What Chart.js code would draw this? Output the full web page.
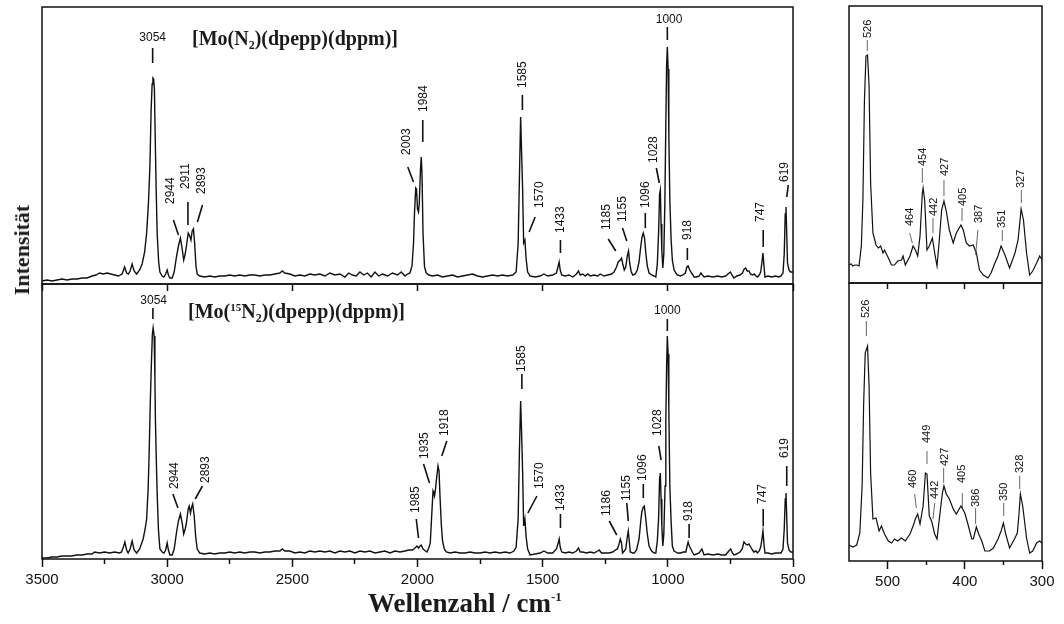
<!DOCTYPE html>
<html lang="de">
<head>
<meta charset="utf-8">
<title>Raman-Spektren Mo(N2)</title>
<script src="https://cdn.jsdelivr.net/npm/chart.js@4.4.1/dist/chart.umd.min.js"></script>
<style>
    body { margin: 0; background: #fff; }
    #wrap { position: relative; width: 1064px; height: 624px; overflow: hidden; }
    #wrap canvas { position: absolute; left: 0; top: 0; }
    .label { position: absolute; font-family: 'Liberation Serif', 'Times New Roman', serif; font-weight: bold; color: #1b1b1b; white-space: nowrap; }
    .compound { font-size: 20px; line-height: 20px; }
    .compound sub { font-size: 12px; vertical-align: -4px; line-height: 0; }
    .compound sup { font-size: 11px; vertical-align: 7px; line-height: 0; }
    #xTitle { left: 368px; top: 590px; font-size: 27px; line-height: 27px; }
    #xTitle sup { font-size: 13px; vertical-align: 11px; line-height: 0; }
    #yTitle { left: 22px; top: 250px; font-size: 22px; line-height: 22px; transform: translate(-50%, -50%) rotate(-90deg); }
</style>
</head>
<body>
<div id="wrap">
    <canvas id="topWide" width="1064" height="624"></canvas>
    <canvas id="bottomWide" width="1064" height="624"></canvas>
    <canvas id="topNarrow" width="1064" height="624"></canvas>
    <canvas id="bottomNarrow" width="1064" height="624"></canvas>
    <div class="label compound" style="left:192px; top:28px;">[Mo(N<sub>2</sub>)(dpepp)(dppm)]</div>
    <div class="label compound" style="left:188px; top:301px;">[Mo(<sup>15</sup>N<sub>2</sub>)(dpepp)(dppm)]</div>
    <div class="label" id="xTitle">Wellenzahl / cm<sup>-1</sup></div>
    <div class="label" id="yTitle">Intensität</div>
</div>
<script>
// Spectra: [wavenumber cm-1, intensity (arb.)]
const spectrumN2 = [
    [3500,3],[3480,4],[3460,3],[3440,4],[3420,5],[3400,4],[3380,5],[3360,5],[3340,6],[3320,6],
    [3300,8],[3285,9],[3270,11],[3255,10],[3240,11],[3225,10],[3210,9],[3195,8],[3180,10],[3170,17],
    [3162,11],[3155,10],[3148,13],[3140,20],[3132,13],[3122,10],[3110,14],[3100,20],[3090,32],[3082,51],
    [3075,80],[3069,117],[3064,175],[3060,200],[3057,206],[3054,205],[3051,195],[3048,150],[3044,95],[3040,51],
    [3034,22],[3029,12],[3020,8],[3013,7],[3006,10],[3000,14],[2995,9],[2989,6],[2980,6],[2972,12],
    [2963,27],[2955,38],[2947,46],[2940,35],[2934,24],[2928,30],[2923,38],[2916,51],[2910,48],[2905,44],
    [2900,53],[2895,55],[2890,40],[2885,18],[2880,10],[2870,8],[2850,7],[2830,8],[2810,7],[2790,8],
    [2770,8],[2750,9],[2730,8],[2710,9],[2690,8],[2670,9],[2650,9],[2630,8],[2610,9],[2590,9],
    [2570,10],[2550,11],[2540,13],[2530,11],[2510,10],[2490,8],[2470,9],[2450,8],[2430,10],[2410,9],
    [2390,10],[2370,8],[2350,11],[2330,9],[2310,10],[2290,7],[2275,11],[2260,9],[2245,8],[2230,12],
    [2215,9],[2200,11],[2185,7],[2170,12],[2155,8],[2140,10],[2120,8],[2100,11],[2080,9],[2065,12],
    [2050,8],[2040,10],[2030,11],[2022,18],[2016,40],[2012,71],[2007,96],[2004,95],[2000,75],[1996,72],
    [1993,80],[1988,115],[1985,127],[1982,110],[1978,51],[1972,17],[1965,11],[1955,9],[1940,8],[1920,9],
    [1900,7],[1880,8],[1860,9],[1840,7],[1820,8],[1800,9],[1780,10],[1760,8],[1740,7],[1720,8],
    [1700,9],[1680,8],[1660,9],[1640,8],[1620,9],[1606,12],[1598,40],[1592,117],[1588,167],[1584,130],
    [1580,94],[1576,41],[1571,44],[1566,25],[1560,12],[1550,8],[1530,7],[1510,8],[1495,10],[1480,8],
    [1460,9],[1445,11],[1438,18],[1434,22],[1430,14],[1424,9],[1410,8],[1395,9],[1380,7],[1365,10],
    [1357,13],[1350,9],[1340,10],[1330,8],[1320,10],[1310,8],[1295,9],[1280,8],[1270,10],[1255,8],
    [1240,9],[1225,10],[1215,12],[1205,17],[1198,22],[1190,24],[1185,26],[1180,20],[1174,14],[1168,17],
    [1162,28],[1157,33],[1152,20],[1146,12],[1140,9],[1130,10],[1122,14],[1115,22],[1108,38],[1103,47],
    [1098,51],[1093,46],[1088,31],[1082,18],[1075,11],[1065,9],[1055,8],[1048,7],[1042,20],[1037,51],
    [1033,90],[1030,94],[1027,60],[1024,34],[1020,16],[1016,30],[1012,80],[1008,160],[1005,217],[1002,237],
    [999,215],[996,150],[992,84],[987,45],[982,24],[975,14],[968,11],[962,9],[950,8],[940,9],
    [930,11],[924,17],[919,18],[914,15],[908,12],[900,9],[895,7],[885,7],[875,8],[868,11],
    [862,9],[855,7],[840,8],[820,7],[800,8],[785,7],[769,8],[760,10],[750,12],[744,9],
    [736,6],[725,8],[712,9],[702,11],[695,15],[689,16],[683,13],[676,13],[670,10],[662,9],
    [655,10],[648,8],[642,7],[635,9],[629,12],[624,22],[620,31],[616,18],[612,7],[600,8],
    [585,7],[570,8],[556,7],[548,8],[540,11],[535,30],[531,70],[528,77],[525,50],[522,21],
    [516,14],[510,12],[500,12]
];

const spectrum15N2 = [
    [3500,1],[3480,1],[3460,2],[3440,2],[3420,3],[3400,3],[3383,3],[3360,4],[3340,4],[3320,5],
    [3300,5],[3290,7],[3270,6],[3250,7],[3230,6],[3210,7],[3190,6],[3182,7],[3175,12],[3169,17],
    [3162,9],[3156,6],[3148,10],[3140,18],[3132,9],[3122,6],[3110,10],[3096,20],[3088,30],[3082,40],
    [3076,70],[3072,106],[3067,160],[3063,196],[3059,225],[3056,231],[3052,223],[3049,180],[3047,140],[3043,95],
    [3040,66],[3035,30],[3029,10],[3020,7],[3013,6],[3006,9],[3000,16],[2995,9],[2989,4],[2980,4],
    [2972,10],[2963,26],[2955,38],[2947,45],[2940,36],[2934,25],[2928,30],[2923,36],[2916,50],[2912,53],
    [2907,46],[2902,52],[2898,55],[2892,43],[2886,22],[2880,10],[2870,6],[2850,5],[2830,6],[2810,5],
    [2790,6],[2770,6],[2750,7],[2730,6],[2710,7],[2690,6],[2670,7],[2650,7],[2630,6],[2610,7],
    [2590,7],[2570,8],[2550,8],[2540,10],[2530,8],[2510,8],[2490,6],[2470,7],[2450,6],[2430,8],
    [2410,7],[2390,8],[2370,7],[2350,8],[2330,6],[2310,8],[2290,7],[2270,8],[2250,6],[2230,8],
    [2210,7],[2190,8],[2170,6],[2150,7],[2130,8],[2110,6],[2090,8],[2070,7],[2050,8],[2035,9],
    [2020,9],[2010,11],[2002,13],[1996,11],[1990,13],[1985,14],[1978,10],[1968,8],[1962,7],[1955,11],
    [1949,16],[1944,40],[1938,68],[1935,66],[1932,63],[1928,70],[1924,80],[1918,93],[1914,88],[1910,62],
    [1905,35],[1900,18],[1893,10],[1885,7],[1870,6],[1850,7],[1830,6],[1810,6],[1790,7],[1770,6],
    [1750,6],[1730,7],[1710,6],[1690,7],[1670,6],[1650,7],[1630,6],[1615,8],[1606,12],[1598,40],
    [1593,106],[1588,158],[1584,125],[1580,86],[1576,33],[1571,40],[1566,22],[1560,10],[1550,4],[1530,5],
    [1510,6],[1495,8],[1480,6],[1460,6],[1445,10],[1438,16],[1434,20],[1430,12],[1424,7],[1410,6],
    [1395,7],[1380,6],[1365,8],[1357,11],[1350,7],[1340,7],[1325,6],[1310,7],[1295,6],[1280,8],
    [1274,9],[1265,6],[1250,6],[1235,6],[1220,7],[1210,9],[1201,10],[1195,15],[1190,20],[1185,16],
    [1181,6],[1174,8],[1168,10],[1162,22],[1158,28],[1154,18],[1150,7],[1140,6],[1134,6],[1125,9],
    [1115,20],[1108,38],[1104,47],[1098,52],[1094,53],[1088,40],[1082,25],[1075,13],[1065,8],[1055,6],
    [1048,6],[1042,18],[1037,40],[1033,80],[1030,86],[1027,60],[1024,33],[1020,13],[1016,25],[1011,73],
    [1008,140],[1005,190],[1002,223],[999,205],[996,150],[992,73],[987,38],[982,13],[975,8],[968,7],
    [962,6],[950,6],[938,7],[928,7],[923,13],[919,17],[914,13],[908,10],[900,6],[895,4],
    [885,5],[875,6],[864,10],[858,6],[855,4],[840,5],[820,4],[800,5],[785,4],[769,4],
    [760,7],[749,10],[742,6],[736,4],[725,5],[712,7],[703,10],[696,17],[689,15],[682,14],
    [676,15],[669,12],[662,9],[656,7],[648,8],[642,6],[635,8],[629,12],[624,20],[620,28],
    [616,15],[612,6],[600,6],[585,5],[570,6],[556,6],[548,6],[540,10],[535,30],[531,60],
    [528,66],[525,42],[522,16],[516,9],[509,7],[500,7]
];

const lowN2 = [
    [550,18],[547,19],[545,17],[542,18],[540,18],[537,17],[534,37],[532,83],[530,183],[528,227],
    [526,228],[524,197],[522,100],[519,50],[515,38],[512,35],[509,37],[506,30],[504,33],[499,25],
    [495,18],[491,18],[487,22],[482,23],[480,27],[477,18],[471,27],[467,37],[464,33],[461,27],
    [458,47],[455,90],[454,95],[452,83],[449,33],[446,37],[442,45],[439,30],[436,17],[433,43],
    [430,73],[427,82],[424,72],[420,53],[415,40],[411,50],[405,58],[402,53],[398,40],[394,37],
    [389,38],[385,30],[381,13],[376,8],[370,5],[366,10],[361,20],[357,27],[353,37],[348,28],
    [342,15],[335,30],[331,43],[327,74],[324,63],[320,30],[316,8],[312,12],[307,20],[303,27],
    [300,23]
];

const low15N2 = [
    [550,16],[545,14],[540,16],[536,28],[533,75],[531,158],[529,208],[526,215],[524,175],[522,88],
    [519,42],[515,43],[511,30],[508,35],[504,27],[499,20],[495,18],[491,22],[487,20],[482,23],
    [477,20],[471,27],[467,35],[464,42],[461,47],[458,37],[454,55],[451,88],[449,87],[446,45],
    [443,40],[439,27],[436,22],[433,42],[429,68],[427,75],[424,67],[420,62],[415,52],[411,47],
    [405,55],[400,48],[396,37],[391,22],[389,22],[385,34],[382,27],[378,20],[374,10],[368,10],
    [363,13],[357,22],[353,30],[350,38],[347,27],[342,13],[335,23],[332,28],[330,45],[328,67],
    [325,55],[320,23],[316,8],[312,10],[307,18],[303,20],[300,18]
];

// Peak labels: [text, leader from x,y, leader to x,y, text x,y, horizontal]
const peaksN2 = [
    ['3054', 3058, 221, 3058, 236, 3058, 243, true],
    ['2944', 2955, 49, 2975, 64, 2984, 80],
    ['2911', 2917, 59, 2917, 82, 2925, 95],
    ['2893', 2879, 62, 2859, 79, 2861, 90],
    ['2003', 2016, 102, 2039, 117, 2043, 129],
    ['1984', 1979, 142, 1979, 164, 1976, 172],
    ['1585', 1581, 174, 1581, 189, 1581, 196],
    ['1570', 1554, 52, 1530, 67, 1510, 76],
    ['1433', 1429, 31, 1429, 44, 1429, 51],
    ['1185', 1208, 33, 1238, 45, 1244, 54],
    ['1155', 1164, 43, 1181, 56, 1181, 62],
    ['1096', 1090, 56, 1090, 71, 1090, 76],
    ['1028', 1034, 101, 1046, 116, 1058, 121],
    ['1000', 1002, 244, 1002, 257, 995, 261, true],
    ['918', 922, 24, 922, 36, 919, 44],
    ['747', 619, 37, 619, 54, 628, 62],
    ['619', 525, 87, 519, 99, 535, 102]
];

const peaks15N2 = [
    ['3054', 3057, 240, 3057, 251, 3054, 255, true],
    ['2944', 2957, 51, 2977, 65, 2968, 70],
    ['2893', 2888, 60, 2859, 73, 2848, 76],
    ['1985', 1996, 21, 2005, 40, 2007, 46],
    ['1935', 1952, 76, 1976, 95, 1972, 100],
    ['1918', 1903, 103, 1883, 118, 1892, 123],
    ['1585', 1583, 170, 1583, 185, 1583, 187],
    ['1570', 1559, 46, 1523, 63, 1511, 70],
    ['1433', 1429, 31, 1429, 45, 1429, 48],
    ['1186', 1204, 24, 1234, 38, 1243, 43],
    ['1155', 1158, 38, 1164, 56, 1164, 58],
    ['1096', 1098, 61, 1098, 75, 1102, 78],
    ['1028', 1027, 99, 1036, 113, 1040, 123],
    ['1000', 1002, 228, 1002, 240, 1002, 245, true],
    ['918', 915, 21, 915, 35, 915, 38],
    ['747', 619, 33, 619, 50, 620, 55],
    ['619', 525, 73, 525, 93, 535, 101]
];

const peaksLowN2 = [
    ['526', 526.3, 232, 526.3, 243, 525.4, 245],
    ['464', 468, 40, 471.4, 50, 471.4, 57],
    ['454', 455, 100, 455, 115, 454, 117],
    ['442', 441.2, 50, 441.2, 65, 440, 67],
    ['427', 427, 87, 427, 103, 426, 107],
    ['405', 403.6, 62, 403.6, 75, 402.3, 77],
    ['387', 386, 28, 383, 53, 381.6, 60],
    ['351', 351.4, 42, 351.4, 53, 351.4, 55],
    ['327', 326.8, 80, 326.8, 93, 326.8, 95]
];

const peaksLow15N2 = [
    ['526', 527.5, 225, 527.5, 240, 527.5, 243],
    ['460', 462.8, 53, 465, 67, 467, 73],
    ['449', 449, 97, 449, 110, 449, 118],
    ['442', 441.2, 42, 439, 58, 439, 62],
    ['427', 427.4, 78, 427.4, 93, 426, 95],
    ['405', 403.2, 53, 403.2, 68, 403.2, 78],
    ['386', 386, 37, 386, 53, 385, 54],
    ['350', 349.6, 45, 349.6, 58, 349.6, 60],
    ['328', 328.9, 72, 328.9, 85, 328.9, 88]
];

// Axis ticks
const wideMajorTicks = [3500, 3000, 2500, 2000, 1500, 1000, 500];
const wideMinorTicks = [3250, 2750, 2250, 1750, 1250, 750];
const narrowMajorTicks = [500, 400, 300];
const narrowMinorTicks = [450, 350];
const narrowTopTicks = [500, 450, 400, 350];

const INK = '#111';
const TICK_FONT = { family: "'Liberation Sans', Arial, sans-serif", size: 15 };
const LABEL_AXIS_HEIGHT = 34;

// Box around each panel
function framePlugin() {
    return {
        id: 'frame',
        afterDraw(chart) {
            const { ctx, chartArea: a } = chart;
            ctx.save();
            ctx.strokeStyle = INK;
            ctx.lineWidth = 1.5;
            ctx.strokeRect(a.left, a.top, a.right - a.left, a.bottom - a.top);
            ctx.restore();
        }
    };
}

// Peak wavenumber labels with leader lines
function peakPlugin(items, style) {
    return {
        id: 'peakLabels',
        afterDatasetsDraw(chart) {
            const { ctx, scales: { x, y } } = chart;
            ctx.save();
            ctx.strokeStyle = style.lineColor;
            ctx.lineWidth = style.lineWidth;
            ctx.fillStyle = INK;
            ctx.font = style.font;
            items.forEach(([text, x1, y1, x2, y2, tx, ty, flat]) => {
                ctx.beginPath();
                ctx.moveTo(x.getPixelForValue(x1), y.getPixelForValue(y1));
                ctx.lineTo(x.getPixelForValue(x2), y.getPixelForValue(y2));
                ctx.stroke();
                const px = x.getPixelForValue(tx);
                const py = y.getPixelForValue(ty);
                if (flat) {
                    ctx.textAlign = 'center';
                    ctx.textBaseline = 'alphabetic';
                    ctx.fillText(text, px, py);
                } else {
                    ctx.save();
                    ctx.translate(px, py);
                    ctx.rotate(-Math.PI / 2);
                    ctx.textAlign = 'left';
                    ctx.textBaseline = 'middle';
                    ctx.fillText(text, 0, 0);
                    ctx.restore();
                }
            });
            ctx.restore();
        }
    };
}

// Bottom axis that only draws tick marks (and labels if asked)
function tickAxis(min, max, values, length, showLabels, weight) {
    return {
        type: 'linear',
        position: 'bottom',
        reverse: true,
        weight: weight,
        min: min,
        max: max,
        afterBuildTicks: (scale) => { scale.ticks = values.map(v => ({ value: v })); },
        afterFit: (scale) => { scale.height = showLabels ? LABEL_AXIS_HEIGHT : 0; },
        border: { display: false },
        grid: { drawOnChartArea: false, tickLength: length, tickWidth: 1.5, color: INK },
        ticks: {
            display: showLabels,
            autoSkip: false,
            maxRotation: 0,
            padding: 4,
            color: INK,
            font: TICK_FONT,
            callback: (value) => String(value)
        }
    };
}

function makePanel(id, spectrum, peaks, o) {
    const scales = {
        x: tickAxis(o.min, o.max, o.major, o.majorLen, o.labels, 1),
        y: { display: false, min: 0, max: o.height }
    };
    if (o.minor) scales.xMinor = tickAxis(o.min, o.max, o.minor, o.minorLen, false, 0);

    return new Chart(document.getElementById(id), {
        type: 'line',
        data: {
            datasets: [{
                data: spectrum.map(([x, y]) => ({ x, y })),
                borderColor: INK,
                borderWidth: o.lineWidth,
                pointRadius: 0,
                tension: 0
            }]
        },
        options: {
            responsive: false,
            animation: false,
            devicePixelRatio: 1,
            layout: { padding: o.padding },
            plugins: { legend: { display: false }, tooltip: { enabled: false } },
            scales: scales
        },
        plugins: [peakPlugin(peaks, o.peakStyle), framePlugin()]
    });
}

const wideStyle = { font: "12px 'Liberation Sans', Arial, sans-serif", lineColor: INK, lineWidth: 1.6 };
const narrowStyle = { font: "11px 'Liberation Sans', Arial, sans-serif", lineColor: '#555', lineWidth: 0.9 };

makePanel('topWide', spectrumN2, peaksN2, {
    min: 500, max: 3500, height: 277, lineWidth: 1.4,
    major: wideMajorTicks, majorLen: 7, labels: false,
    padding: { left: 42, top: 7, right: 271, bottom: 340 },
    peakStyle: wideStyle
});

makePanel('bottomWide', spectrum15N2, peaks15N2, {
    min: 500, max: 3500, height: 275, lineWidth: 1.4,
    major: wideMajorTicks, majorLen: 8, labels: true,
    minor: wideMinorTicks, minorLen: 5,
    padding: { left: 42, top: 284, right: 271, bottom: 65 - LABEL_AXIS_HEIGHT },
    peakStyle: wideStyle
});

makePanel('topNarrow', lowN2, peaksLowN2, {
    min: 300, max: 550, height: 277, lineWidth: 1.2,
    major: narrowTopTicks, majorLen: 6, labels: false,
    padding: { left: 849, top: 6, right: 22, bottom: 341 },
    peakStyle: narrowStyle
});

makePanel('bottomNarrow', low15N2, peaksLow15N2, {
    min: 300, max: 550, height: 278, lineWidth: 1.2,
    major: narrowMajorTicks, majorLen: 8, labels: true,
    minor: narrowMinorTicks, minorLen: 4,
    padding: { left: 849, top: 283, right: 22, bottom: 63 - LABEL_AXIS_HEIGHT },
    peakStyle: narrowStyle
});
</script>
</body>
</html>
